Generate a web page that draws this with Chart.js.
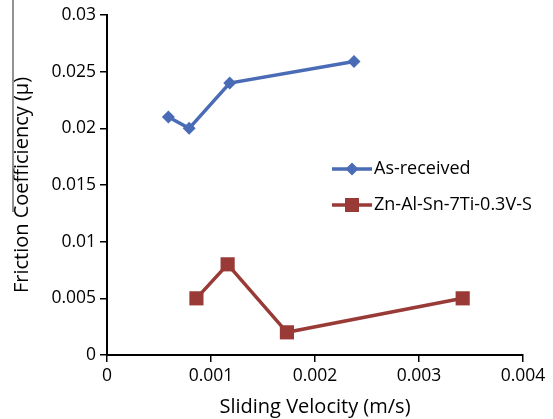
<!DOCTYPE html>
<html>
<head>
<meta charset="utf-8">
<script src="https://cdn.jsdelivr.net/npm/chart.js@4.4.1/dist/chart.umd.min.js"></script>
<style>
html,body{margin:0;padding:0;background:#fff;}
#wrap{width:553px;height:419px;position:relative;}
</style>
</head>
<body>
<div id="wrap"><canvas id="c" width="553" height="419"></canvas></div>
<script>
// Data
const seriesNames = ['As-received', 'Zn-Al-Sn-7Ti-0.3V-S'];
const asReceivedVelocity = [0.00059, 0.00079, 0.00118, 0.002375];
const asReceivedFriction = [0.021, 0.020, 0.024, 0.0259];
const alloyVelocity = [0.00086, 0.00116, 0.00173, 0.00342];
const alloyFriction = [0.005, 0.008, 0.002, 0.005];
const xTickValues = [0, 0.001, 0.002, 0.003, 0.004];
const yTickValues = [0, 0.005, 0.01, 0.015, 0.02, 0.025, 0.03];
const xTitle = 'Sliding Velocity (m/s)';
const yTitle = 'Friction Coefficiency (\u00b5)';

const BLUE = '#4a6cb6';
const RED = '#993a37';
const FONT = "'Open Sans', 'DejaVu Sans', sans-serif";

function pts(xs, ys){ return xs.map((x,i)=>({x:x, y:ys[i]})); }

const legendPlugin = {
  id: 'customLegend',
  afterDraw(chart){
    const ctx = chart.ctx;
    ctx.save();
    // stray border line at the left of the picture
    ctx.strokeStyle = '#6e6e6e';
    ctx.lineWidth = 1.5;
    ctx.beginPath(); ctx.moveTo(13, 0); ctx.lineTo(13, 212); ctx.stroke();
    const items = [{y:169},{y:205}];
    chart.data.datasets.forEach((ds, i) => {
      const y = items[i].y;
      ctx.strokeStyle = ds.borderColor;
      ctx.lineWidth = 3.5;
      ctx.beginPath(); ctx.moveTo(332, y); ctx.lineTo(372, y); ctx.stroke();
      ctx.fillStyle = ds.backgroundColor;
      if (ds.pointStyle === 'rectRot') {
        const r = 6.5;
        ctx.beginPath(); ctx.moveTo(352, y - r); ctx.lineTo(352 + r, y); ctx.lineTo(352, y + r); ctx.lineTo(352 - r, y); ctx.closePath(); ctx.fill();
      } else {
        ctx.fillRect(352 - 7, y - 7, 14, 14);
      }
      ctx.fillStyle = '#000';
      ctx.font = '18px ' + FONT;
      ctx.textBaseline = 'middle';
      ctx.textAlign = 'left';
      ctx.fillText(ds.label, 374, y);
    });
    ctx.restore();
  }
};

new Chart(document.getElementById('c'), {
  type: 'line',
  data: {
    datasets: [
      { label: seriesNames[0], data: pts(asReceivedVelocity, asReceivedFriction),
        borderColor: BLUE, backgroundColor: BLUE, borderWidth: 3.5,
        pointStyle: 'rectRot', pointRadius: 6.5, pointHoverRadius: 6.5, pointBorderWidth: 0, tension: 0 },
      { label: seriesNames[1], data: pts(alloyVelocity, alloyFriction),
        borderColor: RED, backgroundColor: RED, borderWidth: 3.5,
        pointStyle: 'rect', pointRadius: 10, pointHoverRadius: 10, pointBorderWidth: 0, tension: 0 }
    ]
  },
  options: {
    responsive: false,
    animation: false,
    devicePixelRatio: 1,
    layout: { padding: { top: 15, right: 30, left: 0, bottom: 0 } },
    plugins: { legend: { display: false }, tooltip: { enabled: false } },
    scales: {
      x: {
        type: 'linear', min: 0, max: 0.004,
        afterBuildTicks(scale){ scale.ticks = xTickValues.map(v => ({value: v})); },
        afterFit(scale){ scale.height = 64; },
        grid: { drawOnChartArea: false, drawTicks: true, tickLength: 7, color: '#000', lineWidth: 1.5 },
        border: { display: true, color: '#000', width: 2 },
        ticks: { color: '#000', font: { family: FONT, size: 17.5 }, padding: 4, maxRotation: 0,
          callback: v => String(parseFloat(Number(v).toFixed(4))) },
        title: { display: true, text: xTitle, color: '#000', font: { family: FONT, size: 20 }, padding: { top: 0, bottom: 0 } }
      },
      y: {
        type: 'linear', min: 0, max: 0.03,
        afterBuildTicks(scale){ scale.ticks = yTickValues.map(v => ({value: v})); },
        afterFit(scale){ scale.width = 107; },
        grid: { drawOnChartArea: false, drawTicks: true, tickLength: 7, color: '#000', lineWidth: 1.5 },
        border: { display: true, color: '#000', width: 2 },
        ticks: { color: '#000', font: { family: FONT, size: 17.5 }, padding: 4,
          callback: v => String(parseFloat(Number(v).toFixed(4))) },
        title: { display: true, text: yTitle, color: '#000', font: { family: FONT, size: 20 }, padding: { top: 10, bottom: 0 } }
      }
    }
  },
  plugins: [legendPlugin]
});
</script>
</body>
</html>
